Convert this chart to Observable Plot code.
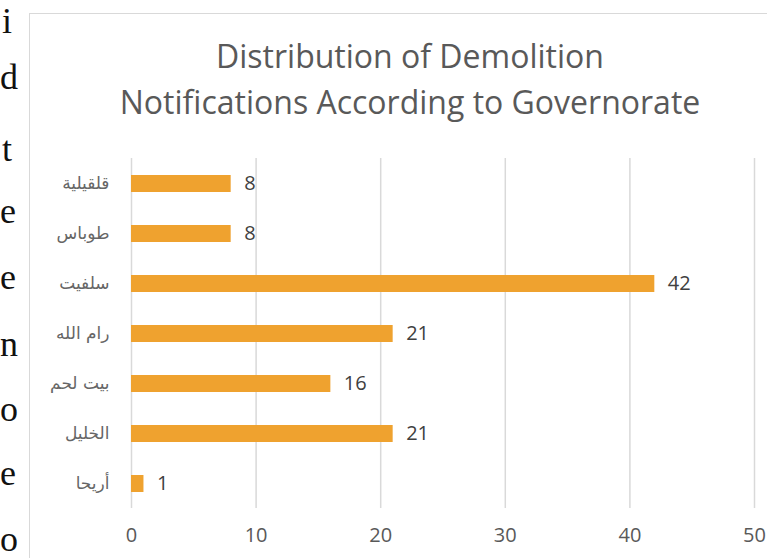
<!DOCTYPE html>
<html>
<head>
<meta charset="utf-8">
<script src="https://cdn.jsdelivr.net/npm/d3@7"></script>
<script src="https://cdn.jsdelivr.net/npm/@observablehq/plot@0.6"></script>
<style>
  html, body { margin: 0; padding: 0; background: #fff; width: 767px; height: 558px; overflow: hidden; }
  #page { position: relative; width: 767px; height: 558px; }
  #frame { position: absolute; left: 29px; top: 13px; width: 800px; height: 600px; border: 1.5px solid #d9d9d9; box-sizing: border-box; }
  #letters { position: absolute; left: 0; top: 0; font-family: "Liberation Serif", "DejaVu Serif", serif; font-size: 36px; color: #111; }
  #letters span { position: absolute; left: 0; }
  #title { position: absolute; left: 0; top: 0; width: 767px; height: 150px; }
  #title div { position: absolute; left: 0; width: 820px; text-align: center; font-family: "Open Sans", "Noto Sans", sans-serif; font-size: 32px; color: #595959; white-space: nowrap; }
  #chart { position: absolute; left: 0; top: 150px; }
</style>
</head>
<body>
<div id="page">
  <div id="frame"></div>
  <div id="letters"></div>
  <div id="title"></div>
  <div id="chart"></div>
</div>
<script>
const governorates = ["قلقيلية", "طوباس", "سلفيت", "رام الله", "بيت لحم", "الخليل", "أريحا"];
const notifications = [8, 8, 42, 21, 16, 21, 1];
const xTicks = [0, 10, 20, 30, 40, 50];
const titleLines = ["Distribution of Demolition", "Notifications According to Governorate"];
const strayLetters = ["i", "d", "t", "e", "e", "n", "o", "e", "o"];

// stray text from the surrounding document (cropped)
const letters = document.getElementById("letters");
const letterTops = [0, 56, 128, 190, 256, 323, 388, 452, 518];
strayLetters.forEach((l, i) => {
  const s = document.createElement("span");
  s.textContent = l;
  s.style.top = letterTops[i] + "px";
  s.style.left = (l === "i" || l === "t" ? 2 : 0) + "px";
  letters.appendChild(s);
});

const title = document.getElementById("title");
titleLines.forEach((t, i) => {
  const d = document.createElement("div");
  d.textContent = t;
  d.style.top = (34 + i * 46) + "px";
  title.appendChild(d);
});

const data = governorates.map((g, i) => ({ governorate: g, value: notifications[i] }));

const chart = Plot.plot({
  width: 767,
  height: 408,
  marginTop: 8,
  marginBottom: 50,
  marginLeft: 131,
  marginRight: 13,
  style: { fontFamily: "'Open Sans', 'DejaVu Sans', sans-serif", color: "#595959", background: "transparent", overflow: "visible" },
  x: { domain: [0, 50], ticks: xTicks, label: null, grid: false },
  y: { domain: governorates, label: null, paddingInner: 0.66, paddingOuter: 0.33 },
  marks: [
    Plot.ruleX(xTicks, { stroke: "#d9d9d9", strokeWidth: 1.5, strokeOpacity: 1 }),
    Plot.barX(data, { x: "value", y: "governorate", fill: "#EFA22F" }),
    Plot.text(data, { x: "value", y: "governorate", text: d => String(d.value), textAnchor: "start", dx: 13, fontSize: 20, fill: "#404040" }),
    Plot.axisX({ ticks: xTicks, tickSize: 0, tickPadding: 19, fontSize: 20, label: null, fill: "#595959" }),
    Plot.axisY({ tickSize: 0, tickPadding: 22, fontSize: 17, label: null, fill: "#666666", fontFamily: "'DejaVu Sans', sans-serif" })
  ]
});
document.getElementById("chart").appendChild(chart);
</script>
</body>
</html>
